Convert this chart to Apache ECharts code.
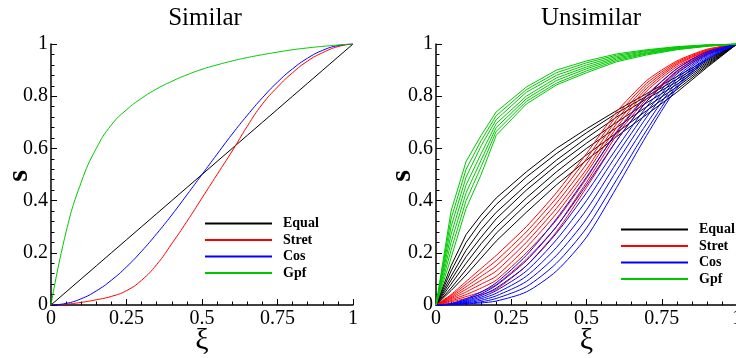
<!DOCTYPE html>
<html><head><meta charset="utf-8">
<script src="https://cdn.jsdelivr.net/npm/echarts@6/dist/echarts.min.js"></script>
<style>html,body{margin:0;padding:0;background:#fff}#c{width:736px;height:358px}</style>
</head><body><div id="c"></div>
<script>
// ---- data ----
const legendNames = ['Equal', 'Stret', 'Cos', 'Gpf'];
const panelTitles = ['Similar', 'Unsimilar'];
const yName = 's';
const xName = 'ξ';

// Similar panel
const xiSim   = [0,0.05,0.1,0.15,0.2,0.25,0.3,0.35,0.4,0.45,0.5,0.55,0.6,0.65,0.7,0.75,0.8,0.85,0.9,0.95,1];
const sEqual  = [0,0.05,0.1,0.15,0.2,0.25,0.3,0.35,0.4,0.45,0.5,0.55,0.6,0.65,0.7,0.75,0.8,0.85,0.9,0.95,1];
const sStret  = [0,0.003,0.01,0.02,0.033,0.055,0.095,0.155,0.235,0.32,0.41,0.50,0.59,0.685,0.77,0.835,0.89,0.935,0.967,0.99,1];
const sCos    = [0,0.006,0.024,0.054,0.095,0.146,0.206,0.273,0.345,0.422,0.5,0.578,0.655,0.727,0.794,0.854,0.905,0.946,0.976,0.994,1];
const sGpf    = [0,0.28,0.47,0.60,0.69,0.748,0.792,0.828,0.857,0.882,0.903,0.92,0.935,0.948,0.959,0.969,0.978,0.985,0.991,0.996,1];

// Unsimilar panel
const xiUns = [0,0.05,0.1,0.15,0.2,0.3,0.4,0.5,0.6,0.7,0.8,0.9,1];
const uEqual = [
  [0,0.15,0.27,0.345,0.41,0.51,0.60,0.675,0.745,0.81,0.875,0.94,1],
  [0,0.13,0.24,0.32,0.385,0.49,0.58,0.66,0.735,0.80,0.865,0.935,1],
  [0,0.11,0.21,0.29,0.355,0.46,0.555,0.64,0.72,0.79,0.855,0.93,1],
  [0,0.095,0.185,0.26,0.33,0.44,0.535,0.62,0.70,0.775,0.845,0.925,1],
  [0,0.08,0.16,0.235,0.30,0.41,0.51,0.60,0.68,0.76,0.835,0.92,1],
  [0,0.065,0.135,0.205,0.275,0.385,0.485,0.575,0.66,0.745,0.825,0.915,1],
  [0,0.055,0.115,0.18,0.245,0.355,0.46,0.555,0.645,0.73,0.815,0.91,1]
];
const uStret = [
  [0,0.04,0.09,0.14,0.19,0.30,0.43,0.58,0.74,0.86,0.935,0.98,1],
  [0,0.036,0.08,0.125,0.17,0.28,0.41,0.56,0.725,0.85,0.93,0.977,1],
  [0,0.032,0.07,0.11,0.15,0.26,0.39,0.54,0.71,0.84,0.925,0.974,1],
  [0,0.028,0.06,0.095,0.13,0.24,0.37,0.52,0.695,0.83,0.92,0.972,1],
  [0,0.024,0.05,0.08,0.11,0.22,0.35,0.505,0.68,0.82,0.913,0.969,1],
  [0,0.02,0.04,0.065,0.095,0.20,0.325,0.485,0.665,0.805,0.905,0.966,1],
  [0,0.016,0.032,0.05,0.078,0.175,0.30,0.47,0.65,0.79,0.897,0.963,1],
  [0,0.012,0.025,0.04,0.06,0.15,0.28,0.45,0.63,0.78,0.89,0.96,1]
];
const uCos = [
  [0,0.006,0.024,0.05,0.085,0.19,0.33,0.49,0.66,0.80,0.905,0.97,1],
  [0,0.005,0.02,0.043,0.075,0.17,0.30,0.46,0.63,0.78,0.895,0.965,1],
  [0,0.004,0.017,0.036,0.065,0.15,0.275,0.43,0.60,0.76,0.885,0.96,1],
  [0,0.003,0.014,0.030,0.055,0.13,0.25,0.40,0.575,0.74,0.875,0.957,1],
  [0,0.003,0.011,0.024,0.045,0.11,0.22,0.365,0.545,0.72,0.865,0.953,1],
  [0,0.002,0.008,0.018,0.035,0.09,0.19,0.33,0.515,0.695,0.853,0.948,1],
  [0,0.002,0.006,0.012,0.025,0.07,0.16,0.295,0.48,0.67,0.84,0.944,1],
  [0,0.001,0.004,0.008,0.015,0.05,0.13,0.26,0.45,0.65,0.83,0.94,1]
];
const uGpf = [
  [0,0.36,0.55,0.65,0.74,0.835,0.90,0.935,0.962,0.978,0.99,0.997,1],
  [0,0.33,0.52,0.63,0.725,0.825,0.89,0.928,0.957,0.975,0.988,0.996,1],
  [0,0.30,0.49,0.61,0.71,0.815,0.88,0.92,0.952,0.972,0.986,0.995,1],
  [0,0.27,0.46,0.58,0.695,0.80,0.87,0.912,0.947,0.968,0.984,0.994,1],
  [0,0.24,0.43,0.555,0.68,0.79,0.86,0.905,0.942,0.965,0.982,0.993,1],
  [0,0.21,0.40,0.53,0.665,0.78,0.85,0.897,0.937,0.962,0.98,0.992,1],
  [0,0.18,0.37,0.50,0.65,0.77,0.843,0.89,0.932,0.958,0.978,0.991,1]
];

// ---- styling ----
const colors = { Equal: '#000000', Stret: '#ff0000', Cos: '#0000ff', Gpf: '#00c800' };
const serif = "'Liberation Serif', 'Times New Roman', Times, 'DejaVu Serif', serif";

function pairs(xs, ys) { return xs.map((x, i) => [x, ys[i]]); }

function xAx(gi) {
  return {
    type: 'value', gridIndex: gi, min: 0, max: 1, interval: 0.25,
    axisLine: { show: true, onZero: false, lineStyle: { color: '#000', width: 1.5 } },
    axisTick: { show: true, inside: true, length: 6, lineStyle: { color: '#000', width: 1 } },
    minorTick: { show: true, splitNumber: 5, length: 3.5, lineStyle: { color: '#000', width: 1 } },
    splitLine: { show: false }, minorSplitLine: { show: false },
    axisLabel: { color: '#000', fontFamily: serif, fontSize: 20, margin: 4, showMaxLabel: true, showMinLabel: true, hideOverlap: false },
    name: xName, nameLocation: 'middle', nameGap: 21, nameMoveOverlap: false,
    nameTextStyle: { fontFamily: serif, fontSize: 30, color: '#000' }
  };
}
function yAx(gi) {
  return {
    type: 'value', gridIndex: gi, min: 0, max: 1, interval: 0.2,
    axisLine: { show: true, onZero: false, lineStyle: { color: '#000', width: 1.5 } },
    axisTick: { show: true, inside: true, length: 6, lineStyle: { color: '#000', width: 1 } },
    minorTick: { show: true, splitNumber: 5, length: 3.5, lineStyle: { color: '#000', width: 1 } },
    splitLine: { show: false }, minorSplitLine: { show: false },
    axisLabel: { color: '#000', fontFamily: serif, fontSize: 20, margin: 3, showMaxLabel: true, showMinLabel: true, hideOverlap: false }
  };
}
function line(name, data, gi, smooth) {
  return {
    type: 'line', name: name, xAxisIndex: gi, yAxisIndex: gi, data: data,
    symbol: 'none', smooth: smooth || false,
    lineStyle: { color: colors[name], width: 1 }, itemStyle: { color: colors[name] },
    emphasis: { disabled: true }, silent: true
  };
}

const series = [
  line('Equal', pairs(xiSim, sEqual), 0),
  line('Stret', pairs(xiSim, sStret), 0, 0.5),
  line('Cos', pairs(xiSim, sCos), 0, 0.5),
  line('Gpf', pairs(xiSim, sGpf), 0, 0.5)
];
uEqual.forEach(s => series.push(line('Equal', pairs(xiUns, s), 1)));
uStret.forEach(s => series.push(line('Stret', pairs(xiUns, s), 1, 0.2)));
uCos.forEach(s => series.push(line('Cos', pairs(xiUns, s), 1, 0.25)));
uGpf.forEach(s => series.push(line('Gpf', pairs(xiUns, s), 1)));

function legend(left, top) {
  return {
    data: legendNames, orient: 'vertical', left: left, top: top, padding: 0,
    itemWidth: 67, itemHeight: 2, itemGap: 2.5, icon: 'rect', selectedMode: false,
    textStyle: { fontFamily: serif, fontWeight: 'bold', fontSize: 14, lineHeight: 14, color: '#000', padding: [0, 0, 0, 6] }
  };
}
function txt(str, x, y, font, rot) {
  return { type: 'text', x: x, y: y, rotation: rot || 0, silent: true,
    style: { text: str, font: font, textAlign: 'center', textVerticalAlign: 'middle', fill: '#000' } };
}
const titleFont = "25px 'Liberation Serif', 'Times New Roman', serif";
const yNameFont = "bold 30px 'Liberation Serif', 'Times New Roman', serif";

const chart = echarts.init(document.getElementById('c'), null, { renderer: 'canvas' });
chart.setOption({
  animation: false,
  backgroundColor: '#fff',
  grid: [
    { left: 51, top: 44, width: 302, height: 261, containLabel: false, outerBoundsMode: 'none' },
    { left: 436, top: 44, width: 301, height: 261, containLabel: false, outerBoundsMode: 'none' }
  ],
  xAxis: [xAx(0), xAx(1)],
  yAxis: [yAx(0), yAx(1)],
  legend: [legend(205, 216.5), legend(621, 222.5)],
  graphic: [
    txt(panelTitles[0], 205, 18.5, titleFont),
    txt(panelTitles[1], 591, 18.5, titleFont),
    txt(yName, 19, 176, yNameFont, Math.PI / 2),
    txt(yName, 402, 176, yNameFont, Math.PI / 2)
  ],
  series: series
});
</script></body></html>
